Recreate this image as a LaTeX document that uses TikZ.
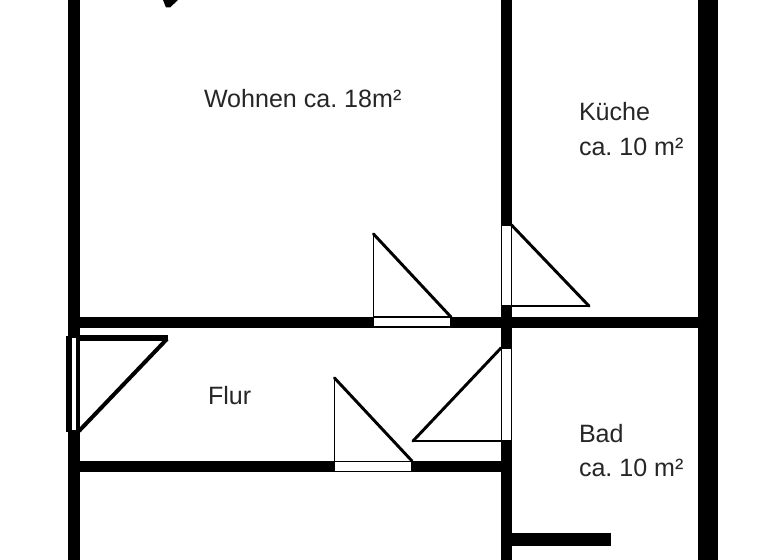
\documentclass[tikz,border=0pt]{standalone}
\usepackage{fontspec}
\setmainfont{Liberation Sans}
\frenchspacing
\tikzset{
  wall/.style={fill=black,draw=none},
  doorleaf/.style={draw=black,line width=2.2pt,line cap=round},
  doorline/.style={draw=black,line width=1.1pt},
  doorframe/.style={draw=black,line width=1.1pt,fill=white},
  label/.style={anchor=base west,inner sep=0pt,outer sep=0pt,text=black!85,font=\fontsize{18.8}{22}\selectfont}
}
\begin{document}
\begin{tikzpicture}[x=0.75pt,y=-0.75pt]
\useasboundingbox (0,0) rectangle (768,560);
\fill[white] (0,0) rectangle (768,560);
\begin{scope}
\clip (0,0) rectangle (768,560);
% walls
\fill[wall] (68,0) rectangle (80,560);
\fill[wall] (501,0) rectangle (512,560);
\fill[wall] (698,0) rectangle (718,560);
\fill[wall] (80,316.5) rectangle (698,327.5);
\fill[wall] (80,461) rectangle (501,472);
\fill[wall] (512,533) rectangle (611,546);
% entrance door
\fill[white] (66,336) rectangle (80,432);
\fill[wall] (66,336) rectangle (72,432);
\fill[wall] (76,336) rectangle (80,432);
\fill[wall] (72,336) rectangle (76,338);
\fill[wall] (72,430) rectangle (76,432);
\fill[wall] (76,335) rectangle (168,341);
\draw[draw=black,line width=3pt] (167,339) -- (79,431);
% living room door
\path[doorframe] (373.5,317) rectangle (451,327);
\draw[doorline] (373.5,317) -- (373.5,234);
\draw[doorleaf] (373.5,234) -- (451,317);
% kitchen door
\path[doorframe] (501.5,225) rectangle (511.5,306);
\draw[doorline] (511.5,306) -- (589,306);
\draw[doorleaf] (511.5,225) -- (589,306);
% hall door down
\path[doorframe] (334.5,461.5) rectangle (412,471.5);
\draw[doorline] (334.5,461.5) -- (334.5,378);
\draw[doorleaf] (334.5,378) -- (412,461);
% bath door
\path[doorframe] (501.5,348) rectangle (511.5,441);
\draw[doorline] (501.5,441) -- (413,441);
\draw[doorleaf] (501,348) -- (413,441);
% cut-off door at the top
\fill[black] (163,0) -- (178,0) -- (170,7.5) -- (166,7.5) -- cycle;
\end{scope}
% labels
\node[label] (wohnen) at (204,108) {Wohnen ca. 18m²};
\node[label] (kueche) at (579,121) {Küche};
\node[label] (kuecheqm) at (579,155.5) {ca. 10 m²};
\node[label] (flur) at (208,404) {Flur};
\node[label] (bad) at (579,442) {Bad};
\node[label] (badqm) at (579,476) {ca. 10 m²};
\end{tikzpicture}
\end{document}
